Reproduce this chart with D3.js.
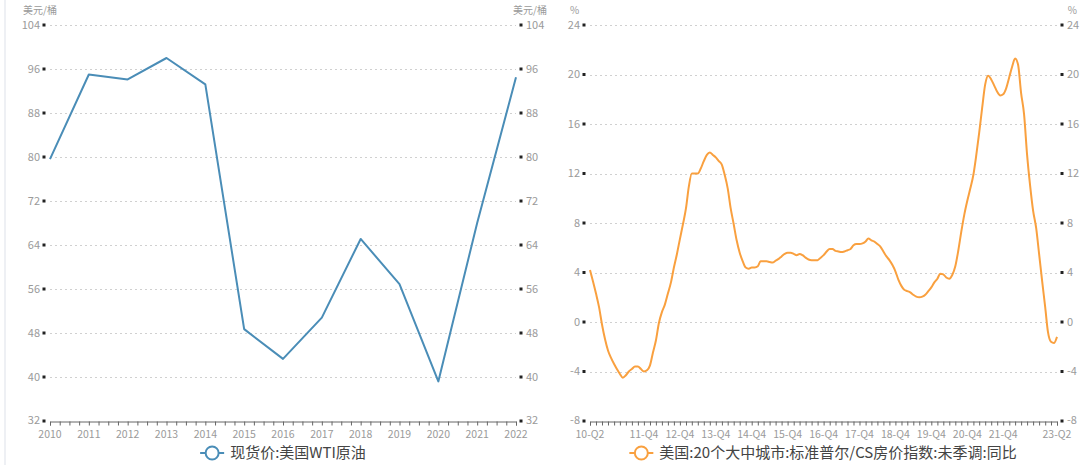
<!DOCTYPE html>
<html><head><meta charset="utf-8">
<script src="https://cdn.jsdelivr.net/npm/d3@7"></script>
<style>
html,body{margin:0;padding:0;background:#fff;}
svg{display:block;font-family:"Noto Sans CJK SC","Noto Sans",sans-serif;}
</style></head>
<body><svg id="c" width="1080" height="465"></svg>
<script>
// ---- Data ----
const wtiYears = [2010,2011,2012,2013,2014,2015,2016,2017,2018,2019,2020,2021,2022];
const wtiValues = [79.6,95.0,94.1,98.0,93.2,48.7,43.3,50.8,65.1,56.9,39.2,68.0,94.5];
const wtiTicks = [32,40,48,56,64,72,80,88,96,104];

const csStart = "2010-06";            // first monthly observation
const csValues = [
  4.2,3.3,2.3,1.2,-0.2,-1.4,-2.3,          // 2010-06..2010-12
  -2.9,-3.4,-3.8,-4.2,-4.5,-4.3,-4.0,-3.8,-3.6,-3.6,-3.8,-4.0, // 2011
  -3.9,-3.5,-2.5,-1.5,-0.1,0.8,1.4,2.3,3.2,4.4,5.5,6.7,        // 2012
  7.9,9.2,10.9,12.0,12.0,12.0,12.4,13.0,13.5,13.7,13.5,13.3,  // 2013
  13.0,12.7,11.9,10.8,9.2,7.9,6.6,5.6,4.9,4.4,4.3,4.4,        // 2014
  4.4,4.5,4.9,4.9,4.9,4.85,4.8,4.95,5.1,5.3,5.5,5.6,          // 2015
  5.6,5.5,5.4,5.5,5.4,5.2,5.05,5.0,5.0,5.0,5.2,5.4,           // 2016
  5.7,5.9,5.9,5.75,5.7,5.65,5.7,5.8,5.9,6.2,6.3,6.3,          // 2017
  6.35,6.5,6.75,6.6,6.5,6.3,6.1,5.7,5.3,5.0,4.6,4.1,          // 2018
  3.4,2.9,2.6,2.5,2.4,2.2,2.05,2.0,2.05,2.2,2.5,2.8,          // 2019
  3.2,3.5,3.9,3.85,3.6,3.5,3.8,4.5,5.8,7.3,8.7,9.8,           // 2020
  10.8,11.9,13.4,15.3,17.3,19.2,19.9,19.6,19.1,18.6,18.3,18.4,// 2021
  18.9,19.8,20.6,21.3,20.8,18.5,16.8,13.5,11.0,9.0,7.6,5.5,   // 2022
  3.3,1.2,-0.8,-1.6,-1.7,-1.2                                  // 2023-01..05
];
const csTicks = [-8,-4,0,4,8,12,16,20,24];
const csLabels = [["2010-06","10-Q2"],["2011-12","11-Q4"],["2012-12","12-Q4"],["2013-12","13-Q4"],
  ["2014-12","14-Q4"],["2015-12","15-Q4"],["2016-12","16-Q4"],["2017-12","17-Q4"],["2018-12","18-Q4"],
  ["2019-12","19-Q4"],["2020-12","20-Q4"],["2021-12","21-Q4"],["2023-06","23-Q2"]];
const csAxisEnd = "2023-06";

const leftUnit = "美元/桶", rightUnit = "%";
const wtiName = "现货价:美国WTI原油";
const csName = "美国:20个大中城市:标准普尔/CS房价指数:未季调:同比";

// ---- Styles ----
const blue = "#4a8db7", orange = "#f9a03f";
const labelColor = "#9a9a9a", gridColor = "#d0d0d0", axisColor = "#666";
const plotTop = 25, plotBottom = 421;

const svg = d3.select("#c");
const parseM = d3.timeParse("%Y-%m");

// faint left border
svg.append("line").attr("x1",5).attr("x2",5).attr("y1",0).attr("y2",465)
  .attr("stroke","#eef0f4").attr("stroke-width",2);

function drawFrame(g, x0, x1, y, ticks, unit, unitLeftX, unitRightX) {
  g.selectAll(null).data(ticks.slice(1)).join("line")
    .attr("x1", x0).attr("x2", x1)
    .attr("y1", d => Math.round(y(d)) + 0.5).attr("y2", d => Math.round(y(d)) + 0.5)
    .attr("stroke", gridColor).attr("stroke-dasharray", "2,3").attr("stroke-width", 1);
  [[x0 - 6, "end", x0 - 10], [x1 + 5, "start", x1 + 10]].forEach(([sx, anchor, tx]) => {
    g.selectAll(null).data(ticks).join("rect")
      .attr("x", sx - 1.5).attr("y", d => y(d) - 1.5).attr("width", 3).attr("height", 3)
      .attr("fill", "#222");
    g.selectAll(null).data(ticks).join("text")
      .attr("x", tx).attr("y", d => y(d) - (d === ticks[0] ? 1 : 0)).attr("dy", "0.35em")
      .attr("text-anchor", anchor).attr("fill", labelColor).attr("font-size", 11)
      .text(d => d);
  });
  g.append("text").attr("x", unitLeftX).attr("y", 14).attr("fill", labelColor)
    .attr("font-size", 10).text(unit);
  g.append("text").attr("x", unitRightX).attr("y", 14).attr("fill", labelColor)
    .attr("font-size", 10).attr("text-anchor","end").text(unit);
}

function legend(cx, color, name) {
  const g = svg.append("g");
  const t = g.append("text").attr("y", 453).attr("dy", "0.35em").attr("font-size", 15)
    .attr("fill", "#444").text(name);
  const w = t.node().getComputedTextLength();
  const total = 24 + 6 + w;
  const sx = cx - total / 2;
  t.attr("x", sx + 30);
  g.append("line").attr("x1", sx).attr("x2", sx + 24).attr("y1", 453).attr("y2", 453)
    .attr("stroke", color).attr("stroke-width", 2);
  g.append("circle").attr("cx", sx + 12).attr("cy", 453).attr("r", 6.5)
    .attr("fill", "#fff").attr("stroke", color).attr("stroke-width", 2);
}

const xLabelY = 434.5;

// ---------- Left chart: WTI ----------
{
  const x = d3.scaleLinear().domain([2010, 2022]).range([50, 516]);
  const y = d3.scaleLinear().domain([32, 104]).range([plotBottom, plotTop]);
  const g = svg.append("g");
  drawFrame(g, 50, 516, y, wtiTicks, leftUnit, 23, 547);
  const ax = d3.axisBottom(x)
    .tickValues(d3.range(0, 49).map(i => 2010 + i / 4))
    .tickSize(4).tickFormat("");
  const axg = g.append("g").attr("transform", `translate(0,${plotBottom + 0.5})`).call(ax);
  axg.select(".domain").attr("stroke", axisColor);
  axg.selectAll(".tick line").attr("stroke", axisColor);
  g.selectAll(null).data(wtiYears).join("text")
    .attr("x", d => x(d)).attr("y", xLabelY).attr("dy", "0.35em").attr("text-anchor", "middle")
    .attr("fill", labelColor).attr("font-size", 10.5).text(d => d);
  g.append("path").datum(wtiYears.map((yr, i) => [yr, wtiValues[i]]))
    .attr("fill", "none").attr("stroke", blue).attr("stroke-width", 2)
    .attr("stroke-linejoin", "round")
    .attr("d", d3.line().x(d => x(d[0])).y(d => y(d[1])));
  legend(283, blue, wtiName);
}

// ---------- Right chart: Case-Shiller ----------
{
  const d0 = parseM(csStart), d1 = parseM(csAxisEnd);
  const x = d3.scaleTime().domain([d0, d1]).range([590, 1057]);
  const y = d3.scaleLinear().domain([-8, 24]).range([plotBottom, plotTop]);
  const g = svg.append("g");
  drawFrame(g, 590, 1057, y, csTicks, rightUnit, 570, 1077);
  const tickDates = d3.timeMonth.range(d0, d3.timeMonth.offset(d1, 1), 2);
  const ax = d3.axisBottom(x).tickValues(tickDates).tickSize(4).tickFormat("");
  const axg = g.append("g").attr("transform", `translate(0,${plotBottom + 0.5})`).call(ax);
  axg.select(".domain").attr("stroke", axisColor);
  axg.selectAll(".tick line").attr("stroke", axisColor);
  g.selectAll(null).data(csLabels).join("text")
    .attr("x", d => x(parseM(d[0]))).attr("y", xLabelY).attr("dy", "0.35em").attr("text-anchor", "middle")
    .attr("fill", labelColor).attr("font-size", 10.5).text(d => d[1]);
  const pts = csValues.map((v, i) => [d3.timeMonth.offset(d0, i), v]);
  g.append("path").datum(pts)
    .attr("fill", "none").attr("stroke", orange).attr("stroke-width", 2)
    .attr("stroke-linejoin", "round")
    .attr("d", d3.line().curve(d3.curveMonotoneX).x(d => x(d[0])).y(d => y(d[1])));
  legend(823, orange, csName);
}
</script></body></html>
